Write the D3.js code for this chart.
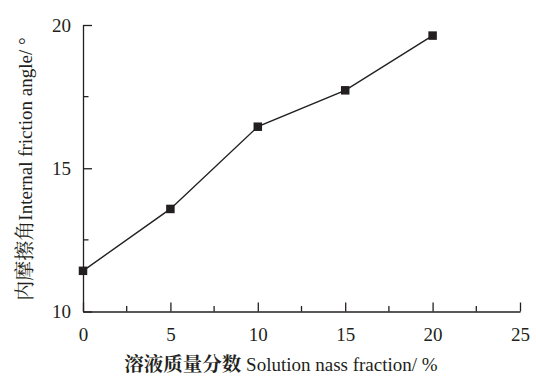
<!DOCTYPE html>
<html>
<head>
<meta charset="utf-8">
<script src="https://cdn.jsdelivr.net/npm/d3@7"></script>
<style>
  body { margin: 0; background: #fff; }
  svg { display: block; }
  .axis path, .axis line { stroke: #231f20; stroke-width: 1.3; }
</style>
</head>
<body>
<svg id="chart"></svg>
<script>
// Solution mass fraction (%)
var fractions = [0, 5, 10, 15, 20];
// Internal friction angle (deg)
var angles = [11.42, 13.58, 16.45, 17.72, 19.63];

var xMajor = [0, 5, 10, 15, 20, 25];
var xMinor = [2.5, 7.5, 12.5, 17.5, 22.5];
var yMajor = [10, 15, 20];
var yMinor = [12.5, 17.5];

var SERIF = "'Liberation Serif', 'Times New Roman', serif";
var CJK = "'Noto Serif CJK SC', 'Noto Sans CJK SC', serif";

var margin = {top: 25, right: 16, bottom: 66.5, left: 83};
var width = 536 - margin.left - margin.right;
var height = 378 - margin.top - margin.bottom;

var root = d3.select("#chart")
    .attr("width", 536)
    .attr("height", 378);

var svg = root.append("g")
    .attr("transform", "translate(" + margin.left + "," + margin.top + ")");

var x = d3.scaleLinear().domain([0, 25]).range([0, width]);
var y = d3.scaleLinear().domain([10, 20]).range([height, 0]);

// x axis, ticks point inward
var gx = svg.append("g")
    .attr("class", "axis")
    .attr("transform", "translate(0," + height + ")")
    .call(d3.axisBottom(x).tickValues(xMajor).tickSize(-9).tickPadding(16).tickSizeOuter(0));
gx.selectAll(".minor").data(xMinor).enter().append("line")
    .attr("class", "minor")
    .attr("x1", d => x(d)).attr("x2", d => x(d))
    .attr("y1", 0).attr("y2", -5.5);

// y axis
var gy = svg.append("g")
    .attr("class", "axis")
    .call(d3.axisLeft(y).tickValues(yMajor).tickSize(-9).tickPadding(12).tickSizeOuter(0));
gy.selectAll(".minor").data(yMinor).enter().append("line")
    .attr("class", "minor")
    .attr("y1", d => y(d)).attr("y2", d => y(d))
    .attr("x1", 0).attr("x2", 5.5);

svg.selectAll(".axis text")
    .style("font-family", SERIF)
    .style("font-size", "19px")
    .style("fill", "#231f20");

var pts = fractions.map((f, i) => ({x: f, y: angles[i]}));

// Series line
svg.append("path")
    .datum(pts)
    .attr("fill", "none")
    .attr("stroke", "#231f20")
    .attr("stroke-width", 1.4)
    .attr("d", d3.line().x(d => x(d.x)).y(d => y(d.y)));

// Square markers
var s = 8.5;
svg.selectAll(".pt")
  .data(pts)
  .enter().append("rect")
    .attr("class", "pt")
    .attr("x", d => x(d.x) - s / 2)
    .attr("y", d => y(d.y) - s / 2)
    .attr("width", s)
    .attr("height", s)
    .attr("fill", "#231f20");

// Axis titles
var xt = root.append("text")
    .attr("x", 281)
    .attr("y", 371)
    .attr("text-anchor", "middle")
    .style("fill", "#231f20");
xt.append("tspan")
    .style("font-family", CJK)
    .style("font-size", "19.5px")
    .style("font-weight", "bold")
    .text("溶液质量分数");
xt.append("tspan")
    .style("font-family", SERIF)
    .style("font-size", "19px")
    .text(" Solution nass fraction/ %");

var yt = root.append("text")
    .attr("transform", "translate(32,169) rotate(-90)")
    .attr("text-anchor", "middle")
    .style("fill", "#231f20");
yt.append("tspan")
    .style("font-family", CJK)
    .style("font-size", "20px")
    .text("内摩擦角");
yt.append("tspan")
    .style("font-family", SERIF)
    .style("font-size", "19px")
    .text("Internal friction angle/ °");
</script>
</body>
</html>
